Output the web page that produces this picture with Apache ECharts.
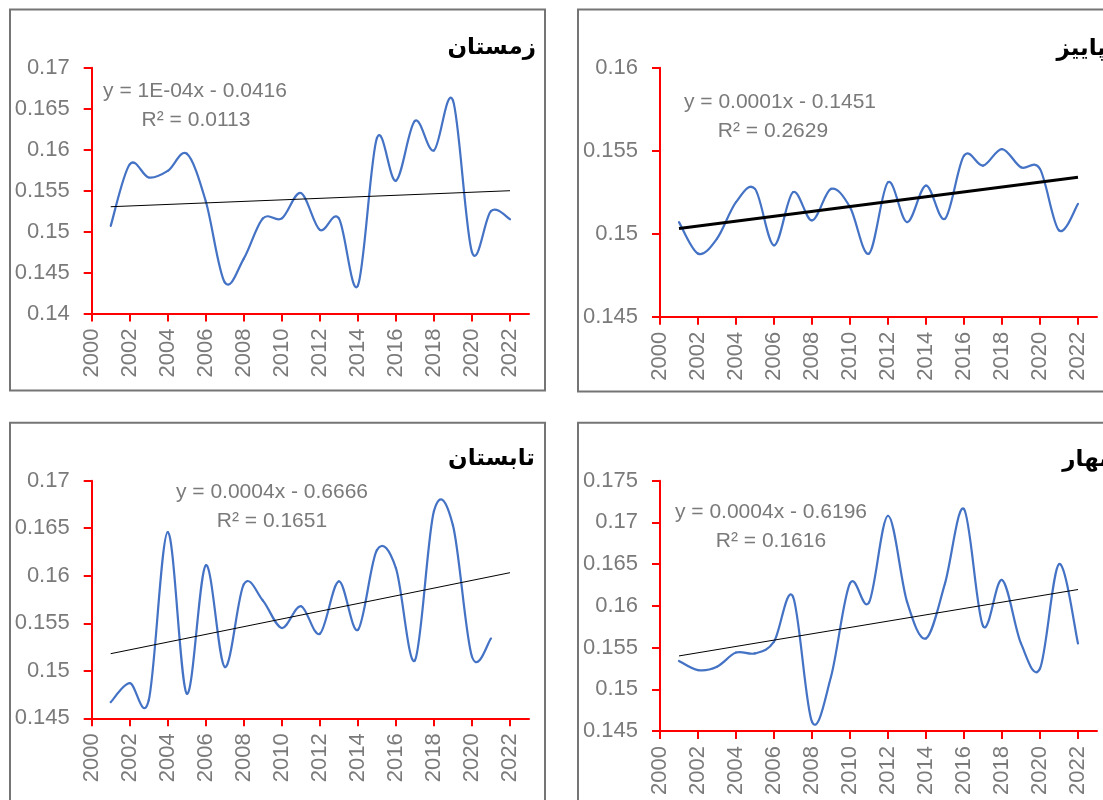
<!DOCTYPE html>
<html>
<head>
<meta charset="utf-8">
<script src="https://cdn.jsdelivr.net/npm/echarts@6/dist/echarts.min.js"></script>
<style>
html,body{margin:0;padding:0;background:#fff;}
#c{width:1103px;height:800px;}
</style>
</head>
<body>
<div id="c"></div>
<script>
// ---- data ----
const years = [2001,2002,2003,2004,2005,2006,2007,2008,2009,2010,2011,2012,2013,2014,2015,2016,2017,2018,2019,2020,2021,2022];
const winter = [0.1507,0.1582,0.1566,0.1574,0.1595,0.1537,0.1438,0.1467,0.1516,0.1516,0.1547,0.1502,0.1516,0.1434,0.1614,0.1562,0.1635,0.1599,0.1660,0.1475,0.1525,0.1515];
const autumn = [0.1507,0.1488,0.1497,0.1519,0.1527,0.1493,0.1525,0.1508,0.1527,0.1516,0.1488,0.1531,0.1507,0.1529,0.1509,0.1547,0.1541,0.1551,0.1540,0.1539,0.1502,0.1518];
const summer = [0.1467,0.1487,0.1469,0.1646,0.1476,0.1611,0.1504,0.1591,0.1574,0.1545,0.1568,0.1539,0.1594,0.1543,0.1627,0.1608,0.1511,0.1668,0.1653,0.1515,0.1534];
const spring = [0.1534,0.1523,0.1527,0.1544,0.1543,0.1557,0.1611,0.1461,0.1515,0.1627,0.1604,0.1708,0.1605,0.1561,0.1627,0.1716,0.1576,0.1631,0.1555,0.1525,0.1650,0.1555];

const titles = ['زمستان', 'پاییز', 'تابستان', 'بهار'];
const equations = ['y = 1E-04x - 0.0416', 'y = 0.0001x - 0.1451', 'y = 0.0004x - 0.6666', 'y = 0.0004x - 0.6196'];
const rSquared = ['R² = 0.0113', 'R² = 0.2629', 'R² = 0.1651', 'R² = 0.1616'];
const yMin = [0.14, 0.145, 0.145, 0.145];
const yMax = [0.17, 0.16, 0.17, 0.175];
const xTickLabels = [2000,2002,2004,2006,2008,2010,2012,2014,2016,2018,2020,2022];

// ---- layout ----
const seriesData = [winter, autumn, summer, spring];
const grids = [
  {left: 91.7, top: 67.7, width: 437.3, height: 245.8},
  {left: 660,  top: 67.7, width: 437,   height: 249},
  {left: 91.7, top: 480.7, width: 437.3, height: 237.6},
  {left: 660,  top: 480.7, width: 437,   height: 250.3}
];
const frames = [
  {x: 10, y: 9.5, w: 535, h: 381},
  {x: 578, y: 9.5, w: 535, h: 382},
  {x: 10, y: 422.7, w: 535, h: 420},
  {x: 578, y: 422.7, w: 535, h: 420}
];
const titlePos = [[536, 48], [1106, 49], [535, 459], [1108, 460]];
const eqPos = [[195, 91, 196, 120], [780, 102, 773, 131], [272, 492, 272, 521], [771, 512, 771, 541]];
const trendWidth = [1, 3, 1, 1];

function regression(xs, ys) {
  const n = ys.length;
  let sx = 0, sy = 0, sxx = 0, sxy = 0;
  for (let i = 0; i < n; i++) { sx += xs[i]; sy += ys[i]; sxx += xs[i]*xs[i]; sxy += xs[i]*ys[i]; }
  const b = (n*sxy - sx*sy) / (n*sxx - sx*sx);
  const a = (sy - b*sx) / n;
  return [a, b];
}

// Excel-like smoothed line (Catmull-Rom converted to cubic Bezier segments)
function smoothRenderer(pts) {
  return function (params, api) {
    const i = params.dataIndex;
    const n = pts.length;
    if (i >= n - 1) return null;
    const p0 = api.coord(pts[Math.max(i - 1, 0)]);
    const p1 = api.coord(pts[i]);
    const p2 = api.coord(pts[i + 1]);
    const p3 = api.coord(pts[Math.min(i + 2, n - 1)]);
    const t = 1 / 6;
    return {
      type: 'bezierCurve',
      shape: {
        x1: p1[0], y1: p1[1], x2: p2[0], y2: p2[1],
        cpx1: p1[0] + (p2[0] - p0[0]) * t, cpy1: p1[1] + (p2[1] - p0[1]) * t,
        cpx2: p2[0] - (p3[0] - p1[0]) * t, cpy2: p2[1] - (p3[1] - p1[1]) * t
      },
      style: {stroke: '#4472C4', lineWidth: 2.2, fill: null, lineCap: 'round'}
    };
  };
}

const labelColor = '#7a7a7a';
const labelFont = 'Liberation Sans';

const option = {
  animation: false,
  backgroundColor: '#ffffff',
  grid: grids.map(g => Object.assign({outerBoundsMode: 'none', containLabel: false}, g)),
  xAxis: grids.map((g, i) => ({
    type: 'value', gridIndex: i, min: 2000, max: 2023,
    axisLine: {show: true, onZero: false, lineStyle: {color: '#ff0000', width: 2}},
    axisTick: {show: true, inside: false, length: 8, lineStyle: {color: '#ff0000', width: 2}, customValues: xTickLabels},
    axisLabel: {show: true, rotate: 90, margin: 15, color: labelColor, fontSize: 22, fontFamily: labelFont,
      customValues: xTickLabels, formatter: v => String(v)},
    splitLine: {show: false}
  })),
  yAxis: grids.map((g, i) => ({
    type: 'value', gridIndex: i, min: yMin[i], max: yMax[i], interval: 0.005,
    axisLine: {show: true, lineStyle: {color: '#ff0000', width: 2}},
    axisTick: {show: true, inside: false, length: 8, lineStyle: {color: '#ff0000', width: 2}},
    axisLabel: {show: true, margin: 22, color: labelColor, fontSize: 22, fontFamily: labelFont,
      formatter: v => String(+v.toFixed(3))},
    splitLine: {show: false}
  })),
  series: [],
  graphic: []
};

seriesData.forEach((d, i) => {
  const xs = years.slice(0, d.length);
  const pts = d.map((v, k) => [xs[k], v]);
  option.series.push({
    type: 'custom', xAxisIndex: i, yAxisIndex: i, coordinateSystem: 'cartesian2d',
    encode: {x: 0, y: 1}, renderItem: smoothRenderer(pts), data: pts, z: 2, silent: true
  });
  const [a, b] = regression(xs, d);
  const x0 = years[0], x1 = years[years.length - 1];
  option.series.push({
    type: 'line', xAxisIndex: i, yAxisIndex: i, symbol: 'none',
    lineStyle: {color: '#000000', width: trendWidth[i]},
    data: [[x0, a + b*x0], [x1, a + b*x1]], z: 3
  });
});

frames.forEach(f => {
  option.graphic.push({type: 'rect', z: 0, silent: true,
    shape: {x: f.x, y: f.y, width: f.w, height: f.h},
    style: {fill: 'none', stroke: '#757575', lineWidth: 2}});
});
titles.forEach((t, i) => {
  option.graphic.push({type: 'text', z: 10, x: titlePos[i][0], y: titlePos[i][1],
    style: {text: t, fill: '#000', font: 'bold 23px "DejaVu Sans"', textAlign: 'right', textVerticalAlign: 'middle'}});
});
equations.forEach((t, i) => {
  option.graphic.push({type: 'text', z: 10, x: eqPos[i][0], y: eqPos[i][1],
    style: {text: t, fill: labelColor, font: '21px "Liberation Sans"', textAlign: 'center', textVerticalAlign: 'middle'}});
  option.graphic.push({type: 'text', z: 10, x: eqPos[i][2], y: eqPos[i][3],
    style: {text: rSquared[i], fill: labelColor, font: '21px "Liberation Sans"', textAlign: 'center', textVerticalAlign: 'middle'}});
});

const chart = echarts.init(document.getElementById('c'), null, {renderer: 'canvas'});
chart.setOption(option);
</script>
</body>
</html>
